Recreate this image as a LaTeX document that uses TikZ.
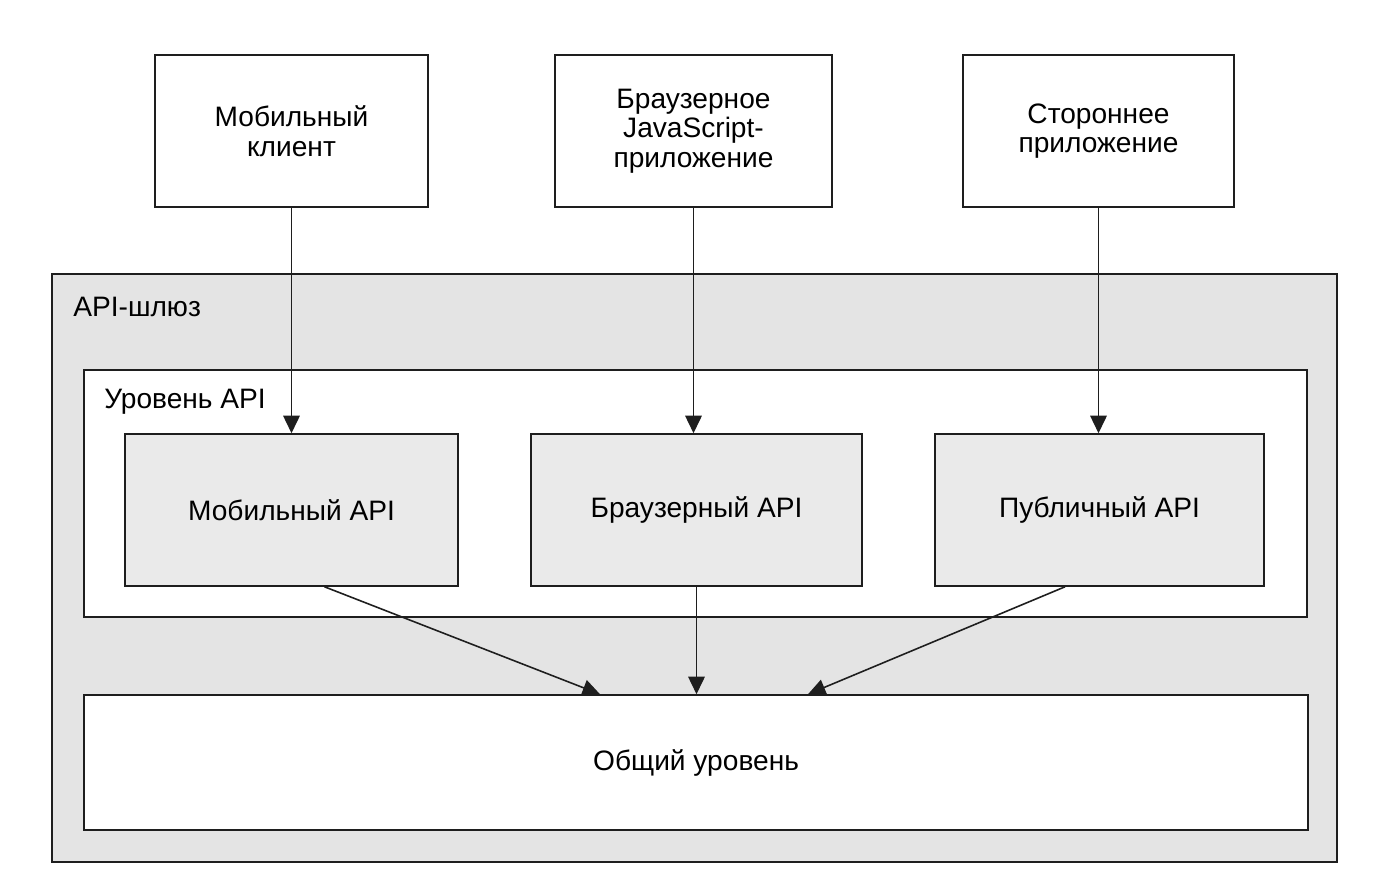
\documentclass[tikz,border=0pt]{standalone}
\usepackage{fontspec}
\setmainfont{Liberation Sans}
\usepackage{tikz}
\usetikzlibrary{positioning,arrows.meta,calc}
\definecolor{linegray}{RGB}{30,30,30}
\definecolor{gwfill}{RGB}{228,228,228}
\definecolor{apifill}{RGB}{234,234,234}
\tikzset{
  client/.style ={rectangle, draw=linegray, fill=white, line width=0.9pt,
                  align=center, font=\fontsize{16}{16.8}\selectfont,
                  minimum width=5.5cm, minimum height=3.04cm},
  apibox/.style ={rectangle, draw=linegray, fill=apifill, line width=0.9pt,
                  align=center, font=\fontsize{16}{16.8}\selectfont,
                  minimum width=6.62cm, minimum height=3.04cm},
  layer/.style  ={rectangle, draw=linegray, fill=white, line width=0.9pt},
  tag/.style    ={anchor=west, inner sep=0pt, font=\fontsize{16}{16.8}\selectfont},
  flow/.style   ={-{Triangle[length=3.5mm, width=3.3mm]}, line width=0.9pt, draw=linegray},
}
\begin{document}
\begin{tikzpicture}[x=0.02cm, y=-0.02cm]
\useasboundingbox (0,0) rectangle (1388,882);
% clients
\node[client, minimum width=5.46cm] (mobcl) at (291.5,131) {Мобильный\\ клиент};
\node[client, minimum width=5.54cm] (brwcl) at (693.5,131) {Браузерное\\ JavaScript-\\ приложение};
\node[client, minimum width=5.42cm] (thrdcl) at (1098.5,131) {Стороннее\\ приложение};
% gateway and layers
\node[layer, fill=gwfill, minimum width=25.7cm, minimum height=11.76cm] (gateway) at (694.5,568) {};
\node[tag] (gwtag) at (73,307) {API-шлюз};
\node[layer, minimum width=24.46cm, minimum height=4.94cm] (apilvl) at (695.5,493.5) {};
\node[tag] (lvltag) at (104,402) {Уровень API};
\node[apibox, minimum width=6.66cm] (mobapi) at (291.5,510) {Мобильный API};
\node[apibox, minimum width=6.62cm] (brwapi) at (696.5,510) {Браузерный API};
\node[apibox, minimum width=6.58cm] (pubapi) at (1099.5,510) {Публичный API};
\node[layer, minimum width=24.48cm, minimum height=2.7cm, font=\fontsize{16}{16.8}\selectfont] (common) at (696,762.5) {Общий уровень};
% connectors
\foreach \c/\a in {mobcl/mobapi,brwcl/brwapi,thrdcl/pubapi} \draw[flow] (\c.south) -- (\c.south |- \a.north);
\draw[flow] ([xshift=0.66cm]mobapi.south) -- ([xshift=-1.92cm]common.north);
\draw[flow] (brwapi.south) -- (brwapi.south |- common.north);
\draw[flow] ([xshift=-0.69cm]pubapi.south) -- ([xshift=2.24cm]common.north);
\end{tikzpicture}
\end{document}
